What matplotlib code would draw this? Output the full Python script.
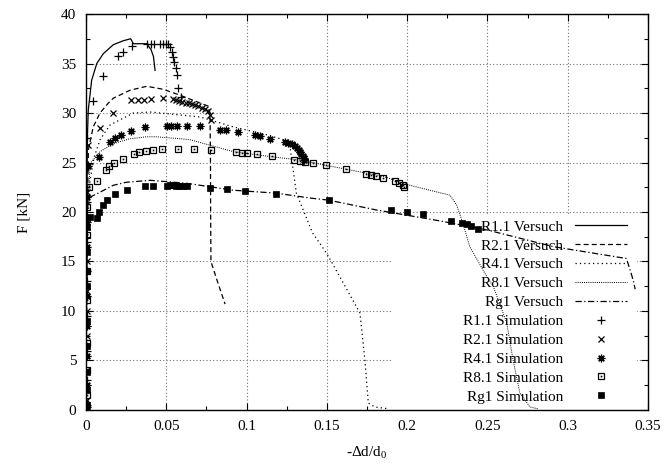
import numpy as np
import matplotlib
matplotlib.use('Agg')
import matplotlib.pyplot as plt
from matplotlib.ticker import MultipleLocator, FormatStrFormatter
from matplotlib.patches import Rectangle

# ================================================================
# Data
# ================================================================
# Versuch (experiment) curves
x_R11_V = [0, 0.0004, 0.0008, 0.0014, 0.0035, 0.0067, 0.0108, 0.017, 0.0232, 0.0278,
           0.0295, 0.0378, 0.0405, 0.042, 0.043]
y_R11_V = [0, 15, 27.3, 30.3, 33.3, 35.0, 36.0, 36.9, 37.3, 37.5,
           37.0, 37.0, 36.4, 35.7, 34.3]

x_R21_V = [0, 0.0004, 0.0008, 0.0015, 0.0045, 0.0087, 0.0139, 0.017, 0.0274, 0.0378,
           0.048, 0.0585, 0.068, 0.076, 0.0772, 0.0775, 0.0776, 0.0778, 0.082, 0.0866]
y_R21_V = [0, 12, 20, 26.3, 28.6, 30.0, 31.0, 31.5, 32.3, 32.7,
           32.4, 31.8, 31.2, 30.7, 30.0, 25.3, 20.0, 15.0, 12.9, 10.7]

x_R41_V = [0, 0.0004, 0.0008, 0.0015, 0.0025, 0.005, 0.0087, 0.015, 0.0295, 0.04,
           0.071, 0.0917, 0.1125, 0.123, 0.127, 0.131, 0.141, 0.15, 0.1706, 0.1737,
           0.1758, 0.18, 0.187]
y_R41_V = [0, 10, 16, 20, 23.2, 25.5, 27.3, 28.8, 30.0, 30.1,
           29.6, 28.6, 27.8, 27.3, 26.6, 21.9, 17.9, 15.8, 9.8, 5.0,
           0.7, 0.3, 0.15]

x_R81_V = [0, 0.0004, 0.001, 0.0025, 0.0087, 0.017, 0.0274, 0.0378, 0.0436, 0.0585,
           0.0648, 0.0917, 0.1146, 0.133, 0.15, 0.185, 0.2017, 0.2204, 0.2267, 0.2308,
           0.234, 0.239, 0.2495, 0.2536, 0.262, 0.266, 0.2702, 0.2765, 0.282]
y_R81_V = [0, 12, 20, 24.9, 26.1, 26.9, 27.4, 27.6, 27.6, 27.4,
           27.3, 26.1, 25.6, 25.25, 24.7, 23.6, 22.7, 21.95, 21.7, 20.7,
           19.2, 16.5, 13.5, 12.5, 8.8, 5.0, 1.7, 0.3, 0.1]

x_Rg1_V = [0, 0.0003, 0.0008, 0.0025, 0.0087, 0.017, 0.025, 0.04, 0.0627, 0.0917,
           0.1187, 0.14, 0.151, 0.181, 0.2204, 0.2495, 0.291, 0.3366, 0.3408, 0.342]
y_Rg1_V = [0, 12, 20.5, 21.5, 22.0, 22.7, 23.0, 23.2, 22.9, 22.2,
           21.9, 21.4, 21.2, 20.2, 19.1, 18.2, 16.5, 15.3, 13.1, 12.2]

# Simulation points
x_R11_S = [0.0003, 0.0003, 0.0003, 0.0003, 0.0003, 0.0003, 0.0003, 0.0003, 0.0003,
           0.0045, 0.0104, 0.0197, 0.0228, 0.0289, 0.0378, 0.0403, 0.0423, 0.046, 0.0481,
           0.0498, 0.0513, 0.0523, 0.0533, 0.054, 0.055, 0.0558, 0.0565, 0.0575, 0.059]
y_R11_S = [0.5, 3, 6, 9.5, 13, 17, 21, 24.5, 27.5,
           31.2, 33.7, 35.8, 36.2, 36.8, 37.0, 37.0, 37.0, 37.0, 37.0,
           37.0, 37.0, 36.7, 36.2, 35.7, 35.2, 34.5, 33.8, 32.5, 31.6]

x_R21_S = [0.0004, 0.0004, 0.0004, 0.0004, 0.0004, 0.0004, 0.0004, 0.0004,
           0.0015, 0.0087, 0.0166, 0.028, 0.0322, 0.0363, 0.0404, 0.0477, 0.0544, 0.056,
           0.058, 0.06, 0.062, 0.064, 0.066, 0.068, 0.07, 0.072, 0.074, 0.076,
           0.077, 0.078]
y_R21_S = [1, 4, 7.5, 10, 12, 15, 18.5, 22,
           26.8, 28.5, 30.0, 31.3, 31.3, 31.3, 31.4, 31.5, 31.4, 31.3,
           31.2, 31.1, 31.0, 31.0, 30.9, 30.8, 30.7, 30.5, 30.4, 30.2,
           29.8, 29.3]

x_R41_S = [0.0004, 0.0004, 0.0004, 0.0004, 0.0004, 0.0004, 0.0004, 0.0004, 0.0004,
           0.0015, 0.0083, 0.015, 0.018, 0.0216, 0.0278, 0.0367, 0.0502, 0.0527, 0.0565,
           0.0627, 0.071, 0.0834, 0.0872, 0.0948, 0.105, 0.1083, 0.1146, 0.1239, 0.126,
           0.128, 0.13, 0.1315, 0.1325, 0.1335, 0.134, 0.135, 0.1355, 0.136]
y_R41_S = [0.3, 2.5, 5.5, 8.5, 11.5, 14, 16.5, 19, 21.5,
           24.6, 25.6, 27.1, 27.5, 27.8, 28.2, 28.6, 28.7, 28.7, 28.7,
           28.7, 28.7, 28.3, 28.3, 28.1, 27.8, 27.7, 27.4, 27.1, 27.0,
           26.9, 26.7, 26.5, 26.3, 26.1, 25.9, 25.7, 25.5, 25.3]

x_R81_S = [0.0005, 0.0005, 0.0005, 0.0005, 0.0005, 0.0005, 0.0005,
           0.002, 0.007, 0.0125, 0.0145, 0.0176, 0.0228, 0.0299, 0.0332, 0.0374, 0.0415,
           0.0475, 0.0575, 0.0672, 0.0776, 0.0932, 0.097, 0.1004, 0.1067, 0.1156, 0.1295,
           0.1332, 0.1364, 0.1415, 0.1494, 0.1619, 0.1743, 0.1773, 0.1806, 0.1851, 0.1924,
           0.1951, 0.1972, 0.198]
y_R81_S = [1.5, 4, 6.8, 11.1, 14, 17.7, 20.5,
           22.5, 23.1, 24.2, 24.6, 25.0, 25.4, 25.9, 26.1, 26.2, 26.3,
           26.4, 26.4, 26.4, 26.3, 26.1, 26.0, 26.0, 25.9, 25.65, 25.3,
           25.2, 25.1, 25.0, 24.75, 24.3, 23.8, 23.7, 23.6, 23.4, 23.1,
           22.9, 22.7, 22.5]

x_Rg1_S = [0.0004, 0.0004, 0.0004, 0.0004, 0.0004, 0.0004, 0.0004, 0.0004,
           0.0008, 0.0025, 0.0066, 0.0083, 0.0108, 0.0133, 0.018, 0.0253, 0.0367, 0.0415,
           0.0502, 0.052, 0.054, 0.056, 0.058, 0.0605, 0.0627, 0.0772, 0.0876, 0.099,
           0.1183, 0.1515, 0.1897, 0.1997, 0.21, 0.2273, 0.234, 0.237, 0.240, 0.2443]
y_Rg1_S = [0.5, 2, 3.8, 6.5, 9, 12.5, 16, 18.5,
           19.3, 19.5, 19.4, 20.0, 20.7, 21.2, 21.8, 22.2, 22.6, 22.6,
           22.6, 22.7, 22.7, 22.6, 22.6, 22.6, 22.6, 22.45, 22.3, 22.1,
           21.8, 21.2, 20.2, 20.0, 19.75, 19.1, 18.9, 18.75, 18.6, 18.25]

labels = ['R1.1 Versuch', 'R2.1 Versuch', 'R4.1 Versuch', 'R8.1 Versuch', 'Rg1 Versuch',
          'R1.1 Simulation', 'R2.1 Simulation', 'R4.1 Simulation', 'R8.1 Simulation',
          'Rg1 Simulation']

# ================================================================
# Plot
# ================================================================
plt.rcParams['font.family'] = ['Liberation Serif', 'DejaVu Serif']
plt.rcParams['mathtext.fontset'] = 'custom'
plt.rcParams['mathtext.rm'] = 'Liberation Serif'
plt.rcParams['font.size'] = 11

fig = plt.figure(figsize=(6.7, 4.72), dpi=100)
ax = fig.add_axes([0.1284, 0.1314, 0.8388, 0.8389])

lw = 0.9
h1, = ax.plot(x_R11_V, y_R11_V, color='k', lw=lw, ls='-')
h2, = ax.plot(x_R21_V, y_R21_V, color='k', lw=lw, ls=(0, (4, 2.5)))
h3, = ax.plot(x_R41_V, y_R41_V, color='k', lw=lw, ls=(0, (1, 2.5)))
h4, = ax.plot(x_R81_V, y_R81_V, color='k', lw=0.7, ls=(0, (1, 1.2)))
h5, = ax.plot(x_Rg1_V, y_Rg1_V, color='k', lw=lw, ls=(0, (5, 2, 1, 2)))

h6, = ax.plot(x_R11_S, y_R11_S, 'k+', ms=6, mew=0.9, ls='none')
h7, = ax.plot(x_R21_S, y_R21_S, 'kx', ms=4.5, mew=0.9, ls='none')
h8, = ax.plot(x_R41_S, y_R41_S, color='k', marker=(8, 2, 0), ms=5.5, mew=0.9, ls='none')
h9a, = ax.plot(x_R81_S, y_R81_S, 'ks', mfc='none', ms=5, mew=0.9, ls='none')
h9b, = ax.plot(x_R81_S, y_R81_S, 'ks', ms=1.2, mew=0, ls='none')
h10, = ax.plot(x_Rg1_S, y_Rg1_S, 'ks', ms=5, mew=0.5, ls='none')

ax.set_xlim(0, 0.35)
ax.set_ylim(0, 40)
ax.xaxis.set_major_locator(MultipleLocator(0.05))
ax.xaxis.set_minor_locator(MultipleLocator(0.025))
ax.xaxis.set_major_formatter(FormatStrFormatter('%g'))
ax.yaxis.set_major_locator(MultipleLocator(5))
ax.yaxis.set_minor_locator(MultipleLocator(2.5))
ax.tick_params(which='both', direction='in', top=True, right=True, width=0.8)
ax.tick_params(which='major', length=5, pad=7)
ax.tick_params(which='minor', length=3)
for s in ax.spines.values():
    s.set_linewidth(1.0)

ax.set_axisbelow(True)
ax.grid(True, which='major', color='0.45', ls=(0, (1, 2)), lw=0.8)

ax.set_xlabel('-Δd/d$_0$', labelpad=8)
ax.set_ylabel('F [kN]', labelpad=22)

# white key box (hides grid, curves stay on top), like gnuplot
ax.add_patch(Rectangle((0.19, 0), 0.153, 19.6, facecolor='white',
                       edgecolor='none', zorder=1))

leg = ax.legend([h1, h2, h3, h4, h5, h6, h7, h8, (h9a, h9b), h10], labels,
                loc='lower right', bbox_to_anchor=(0.985, -0.015), markerfirst=False,
                numpoints=1, handlelength=3.4, handletextpad=0.8, labelspacing=0.34,
                borderpad=0.3, frameon=False, fontsize=11)
for t in leg.get_texts():
    t.set_ha('right')
leg._legend_box.align = 'right'
leg.set_zorder(1.5)

fig.savefig('out.png', dpi=100)
